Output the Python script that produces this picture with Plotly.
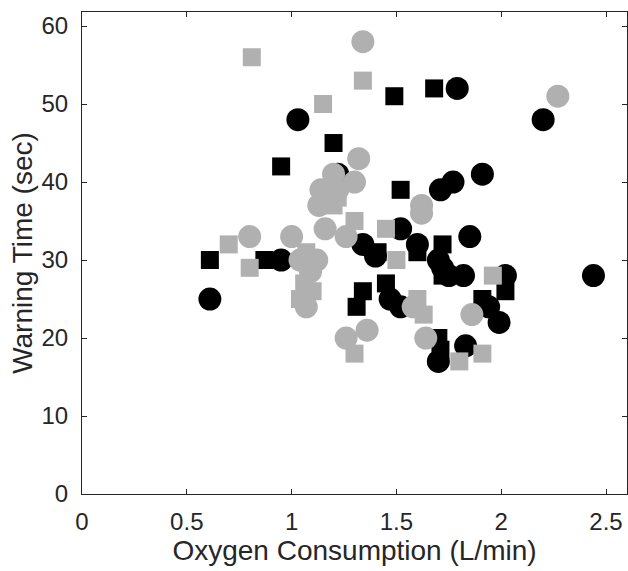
import plotly.graph_objects as go

# Black circles
bc_x = [0.61, 0.95, 1.03, 1.22, 1.34, 1.40, 1.47, 1.52, 1.52, 1.60, 1.70, 1.72, 1.75, 1.82,
        1.71, 1.77, 1.79, 1.85, 1.91, 1.94, 1.99, 2.02, 1.70, 1.83, 2.20, 2.44]
bc_y = [25, 30, 48, 41, 32, 30.5, 25, 24, 34, 32, 30, 29, 28, 28,
        39, 40, 52, 33, 41, 24, 22, 28, 17, 19, 48, 28]

# Black squares
bs_x = [0.61, 0.87, 0.95, 1.20, 1.31, 1.34, 1.41, 1.45, 1.49, 1.52, 1.60, 1.68, 1.72, 1.72,
        1.70, 1.71, 1.91, 2.02]
bs_y = [30, 30, 42, 45, 24, 26, 31, 27, 51, 39, 31, 52, 32, 28,
        20, 18.5, 25, 26]

# Grey circles
gc_x = [0.80, 1.00, 1.04, 1.12, 1.09, 1.07, 1.13, 1.14, 1.20, 1.22, 1.30, 1.32, 1.16, 1.26,
        1.34, 1.26, 1.36, 1.62, 1.62, 1.58, 1.64, 1.86, 2.27]
gc_y = [33, 33, 30, 30, 28.5, 24, 37, 39, 41, 39, 40, 43, 34, 33,
        58, 20, 21, 37, 36, 24, 20, 23, 51]

# Grey squares
gs_x = [0.81, 1.15, 1.34, 0.70, 0.80, 1.07, 1.06, 1.10, 1.04, 1.20, 1.22, 1.30, 1.45, 1.50,
        1.60, 1.63, 1.30, 1.80, 1.91, 1.96]
gs_y = [56, 50, 53, 32, 29, 31, 27, 26, 25, 37, 38, 35, 34, 30,
        25, 23, 18, 17, 18, 28]

x_ticks = [0, 0.5, 1, 1.5, 2, 2.5]
x_ticktext = ["0", "0.5", "1", "1.5", "2", "2.5"]
y_ticks = [0, 10, 20, 30, 40, 50, 60]
y_ticktext = ["0", "10", "20", "30", "40", "50", "60"]

BLACK = "#000000"
GREY = "#b0b0b0"
CIRCLE_SIZE = 23
SQUARE_SIZE = 18
FONT = "Liberation Sans, Arial, sans-serif"
TXT = "#262626"

fig = go.Figure()
fig.add_trace(go.Scatter(x=bc_x, y=bc_y, mode="markers",
                         marker=dict(symbol="circle", size=CIRCLE_SIZE, color=BLACK,
                                     line=dict(width=0))))
fig.add_trace(go.Scatter(x=bs_x, y=bs_y, mode="markers",
                         marker=dict(symbol="square", size=SQUARE_SIZE, color=BLACK,
                                     line=dict(width=0))))
fig.add_trace(go.Scatter(x=gc_x, y=gc_y, mode="markers",
                         marker=dict(symbol="circle", size=CIRCLE_SIZE, color=GREY,
                                     line=dict(width=0))))
fig.add_trace(go.Scatter(x=gs_x, y=gs_y, mode="markers",
                         marker=dict(symbol="square", size=SQUARE_SIZE, color=GREY,
                                     line=dict(width=0))))

axis_common = dict(
    showline=True, linecolor=TXT, linewidth=1, mirror="ticks",
    ticks="inside", ticklen=5, tickcolor=TXT, tickwidth=1,
    showgrid=False, zeroline=False,
    tickfont=dict(family=FONT, size=24, color=TXT),
)

fig.update_layout(
    width=628, height=571,
    margin=dict(l=82, r=1, t=12, b=77),
    paper_bgcolor="white", plot_bgcolor="white",
    showlegend=False,
    xaxis=dict(range=[0, 2.6], tickvals=x_ticks, ticktext=x_ticktext,
               ticklabelstandoff=6,
               title=dict(text="Oxygen Consumption (L/min)", standoff=1,
                          font=dict(family=FONT, size=28, color=TXT)),
               **axis_common),
    yaxis=dict(range=[0, 61.8], tickvals=y_ticks, ticktext=y_ticktext,
               ticklabelstandoff=8,
               title=dict(text="Warning Time (sec)", standoff=0,
                          font=dict(family=FONT, size=28, color=TXT)),
               **axis_common),
)

fig.write_html(
    "out.html",
    config={"displayModeBar": False},
    post_script="document.body.style.margin='0';document.body.style.padding='0';"
                "document.documentElement.style.overflow='hidden';",
)
